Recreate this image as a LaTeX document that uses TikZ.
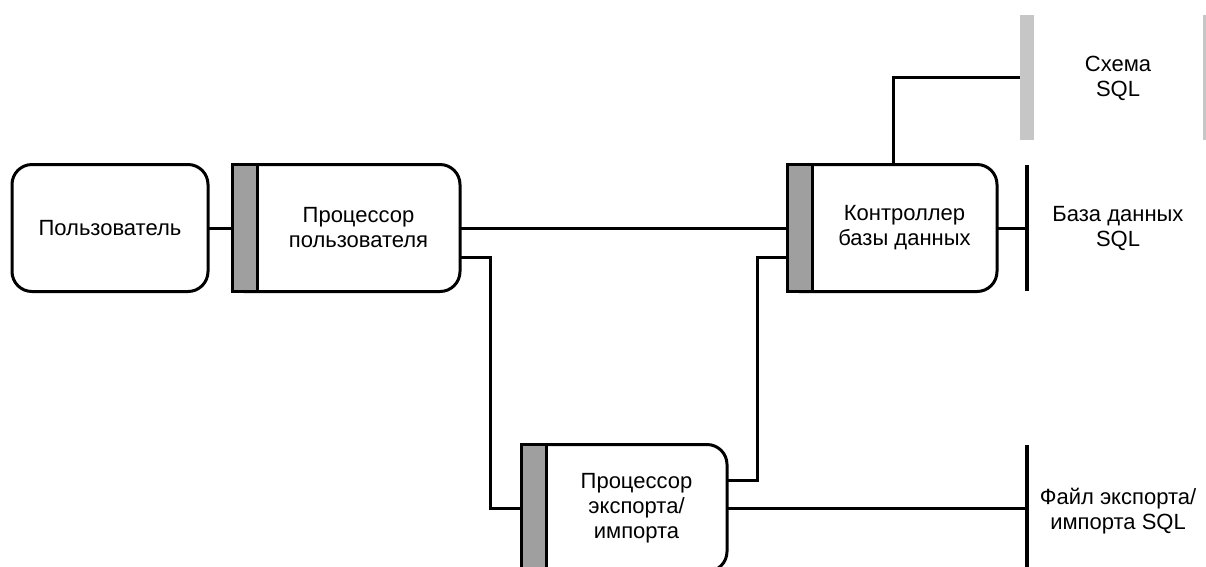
\documentclass[tikz,border=0pt]{standalone}
\usepackage{fontspec}
\setmainfont{Liberation Sans}
\begin{document}
\begin{tikzpicture}[x=1pt,y=-1pt,
  every node/.style={font=\fontsize{22}{25}\selectfont,outer sep=0pt},
  wire/.style={line width=3pt},
  userbox/.style={draw,line width=3pt,rounded corners=20pt,minimum width=196pt,minimum height=127pt,align=center},
  procbox/.style={minimum height=127pt,inner sep=0pt,align=center},
  sidebar/.style={draw,fill=gray!75,line width=3pt,minimum width=25pt,minimum height=127pt,inner sep=0pt},
  storeline/.style={fill=black,minimum width=3.5pt,inner sep=0pt},
  schemabar/.style={fill=gray!45,minimum width=14pt,minimum height=125pt,inner sep=0pt},
  storetext/.style={align=center}]
\useasboundingbox (0,0) rectangle (1206,566);
\node[userbox] (user) at (110,228) {Пользователь};
\node[procbox,minimum width=203pt] (uproc) at (358.5,228) {Процессор\\пользователя};
\draw[wire,rounded corners=20pt] (243.5,164.5) -- (uproc.north east) -- (uproc.south east) -- (243.5,291.5);
\node[sidebar] (ubar) at (244.5,228) {};
\node[procbox,minimum width=185pt] (ctrl) at (904.5,228) {Контроллер\\базы данных};
\draw[wire,rounded corners=20pt] (799,164.5) -- (ctrl.north east) -- (ctrl.south east) -- (799,291.5);
\node[sidebar] (cbar) at (799.5,228) {};
\node[procbox,minimum width=181pt] (eproc) at (636.5,508) {Процессор\\экспорта/\\импорта};
\draw[wire,rounded corners=20pt] (533,444.5) -- (eproc.north east) -- (eproc.south east) -- (533,571.5);
\node[sidebar] (ebar) at (533.5,508) {};
\node[schemabar] (sbar) at (1027,77.5) {};
\node[schemabar,minimum width=8pt] (sbar2) at (1207,77.5) {};
\node[storetext] (schema) at (1118,78) {Схема\\SQL};
\node[storeline,minimum height=126pt] (dbline) at (1027,228) {};
\node[storetext] (db) at (1118,229) {База данных\\SQL};
\node[storeline,minimum height=126pt] (fline) at (1027,508) {};
\node[storetext] (file) at (1118,511) {Файл экспорта/\\импорта SQL};
\draw[wire] (user.east) -- (ubar.west);
\draw[wire] (uproc.east) -- (cbar.west);
\draw[wire] ([yshift=-29pt]uproc.east) -- ++(30,0) |- (ebar.west);
\draw[wire] ([yshift=28pt]eproc.east) -- ++(30,0) |- ([yshift=-29pt]cbar.west);
\draw[wire] (eproc.east) -- (fline.west);
\draw[wire] (ctrl.east) -- (dbline.west);
\draw[wire] ([xshift=-11.5pt]ctrl.north) |- (sbar.west);
\end{tikzpicture}
\end{document}
